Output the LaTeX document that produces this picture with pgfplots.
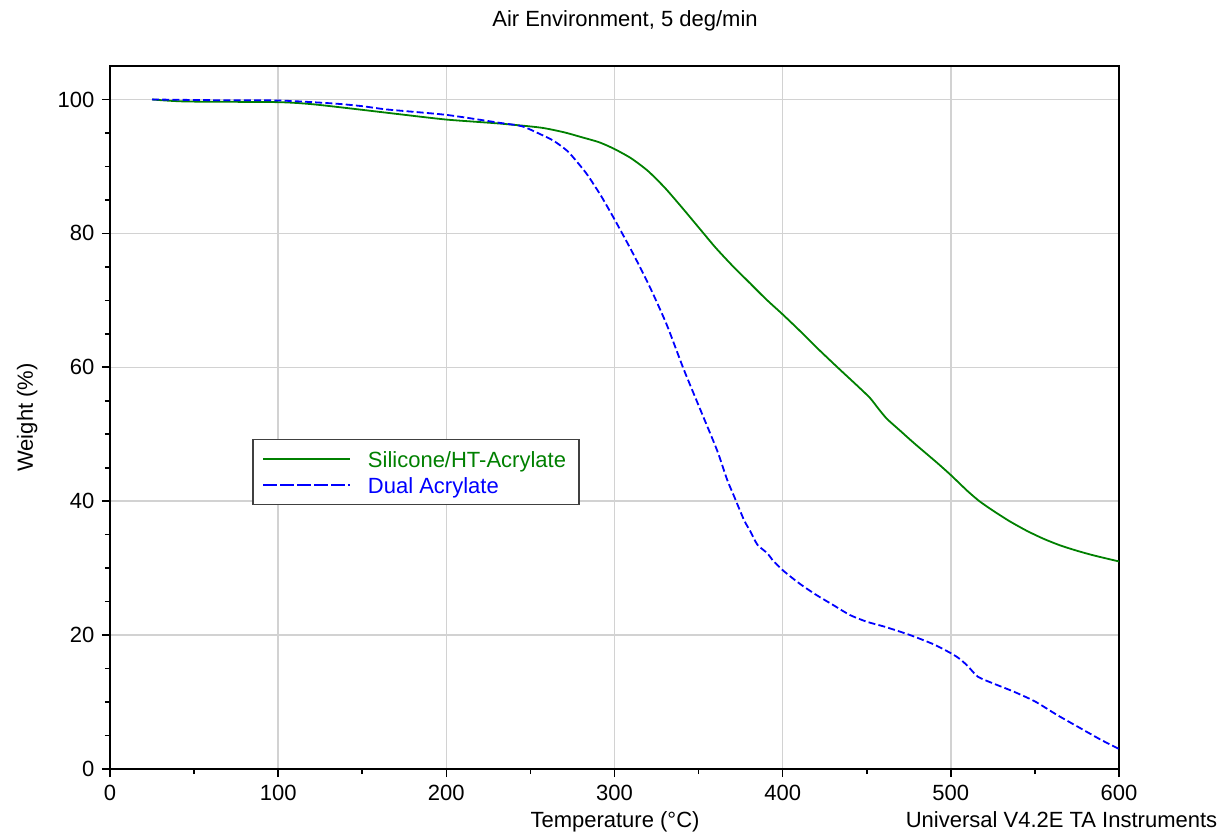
\documentclass[border=0pt]{standalone}
\usepackage{pgfplots}
\pgfplotsset{compat=1.18}
\usepackage{fontspec}
\setmainfont{Liberation Sans}

\definecolor{taGreen}{HTML}{008000}
\definecolor{taBlue}{HTML}{0000FF}

% weight loss curves
\pgfplotstableread{
T    W
25   100.0
45   99.7
100  99.6
120  99.3
145  98.6
172  97.8
200  97.0
232  96.4
256  95.8
270  95.1
280  94.4
291  93.6
300  92.6
310  91.2
320  89.3
330  86.8
340  83.9
350  80.9
360  77.9
370  75.2
380  72.7
390  70.2
400  67.9
410  65.5
420  63.0
433  59.9
445  57.1
452  55.4
457  53.8
462  52.3
470  50.5
478  48.7
492  45.7
500  43.9
510  41.5
517  40.0
525  38.6
535  37.0
545  35.6
555  34.4
565  33.4
575  32.6
585  31.9
600  31.0
}\silicone

\pgfplotstableread{
T    W
25   100.0
60   99.9
100  99.85
133  99.4
150  99.0
165  98.5
200  97.7
232  96.5
245  96.0
256  94.8
264  93.8
272  92.3
278  90.6
284  88.7
292  85.6
300  82.1
311  77.0
321  72.0
331  66.4
341  59.8
351  53.7
361  47.6
367  43.2
371  40.8
377  37.2
381  35.4
385  33.5
391  32.2
394  31.2
400  29.7
410  27.7
420  26.0
430  24.5
440  23.0
450  22.0
460  21.3
470  20.5
478  19.8
490  18.6
500  17.3
505  16.5
510  15.4
516  13.8
525  12.8
537  11.6
550  10.1
563  8.1
577  6.1
589  4.4
600  3.0
}\dualacr

\begin{document}
\fontsize{11}{13}\selectfont
\begin{tikzpicture}
\useasboundingbox (-55pt,-34pt) rectangle (560pt,384.5pt);
\begin{axis}[
    scale only axis,
    width=504.5pt, height=351.5pt,
    at={(0,0)}, anchor=south west,
    xmin=0, xmax=600, ymin=0, ymax=105,
    xtick={0,100,...,600}, ytick={0,20,...,100},
    minor x tick num=1, minor y tick num=3,
    tick pos=left, tick align=outside,
    major tick length=4pt, minor tick length=2.5pt,
    every tick/.style={black, line width=0.8pt},
    axis line style={black, line width=0.8pt},
    grid=major,
    major grid style={gray!35, line width=0.75pt},
    /pgf/number format/assume math mode=true,
    clip=false,
    xlabel={Temperature (°C)},
    xlabel style={at={(axis description cs:0.5005,-0.0825)}, anchor=base},
    ylabel={Weight (\%)},
    ylabel style={at={(axis description cs:-0.0765,0.5)}, anchor=base},
    legend cell align=left,
    legend style={at={(0.1412,0.4694)}, anchor=north west,
        draw=black!75, line width=0.7pt,
        inner xsep=6.5pt, inner ysep=5.75pt,
        row sep=5pt, column sep=8.7pt,
        nodes={inner sep=0pt, text depth=0pt}},
    legend image code/.code={
        \path (0pt,0pt) -- (41.3pt,0pt);
        \draw[#1, overlay] (-2pt,0pt) -- (41.3pt,0pt);},
]
\addplot[taGreen, line width=0.9pt, smooth, tension=0.4]
    table[x=T, y=W] {\silicone};
\addlegendentry{\textcolor{taGreen}{Silicone/HT-Acrylate}}

\addplot[taBlue, line width=0.9pt, smooth, tension=0.4,
    dash pattern=on 3.5pt off 1.6pt,
    legend image post style={dash pattern=on 5pt off 3.5pt}]
    table[x=T, y=W] {\dualacr};
\addlegendentry{\textcolor{taBlue}{Dual Acrylate}}

\node[anchor=base] at (axis description cs:0.5104,1.0555)
    {Air Environment, 5 deg/min};
\node[anchor=base east] at (axis description cs:1.105,-0.0825)
    {Universal V4.2E TA Instruments};
\end{axis}
\end{tikzpicture}
\end{document}
